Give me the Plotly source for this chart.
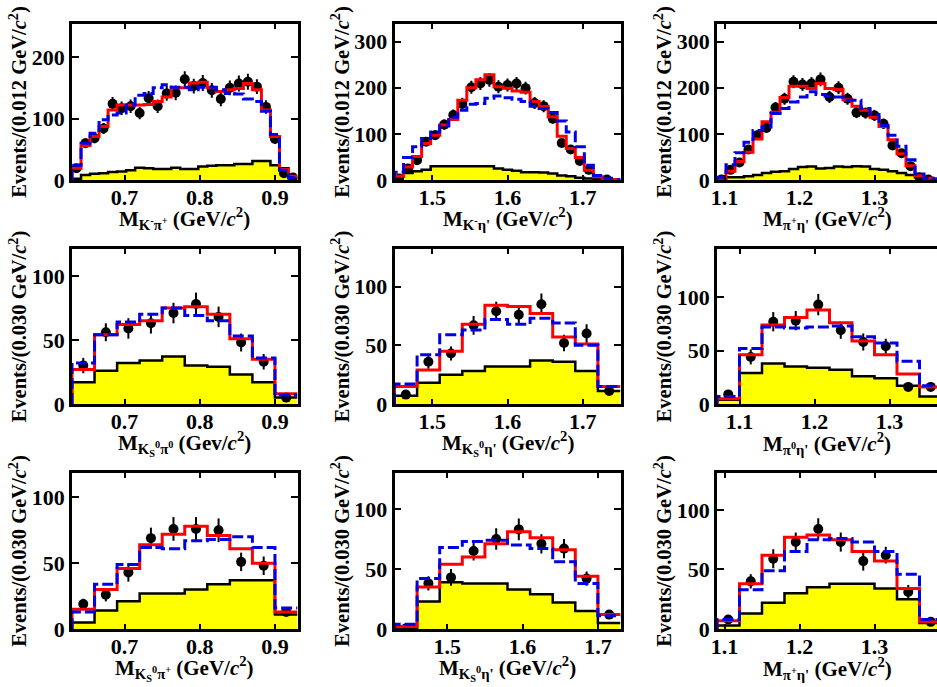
import plotly.graph_objs as go

# bin edges of each panel
edges_1 = [0.63, 0.642, 0.654, 0.666, 0.678, 0.69, 0.702, 0.714, 0.726, 0.738, 0.75, 0.762, 0.774, 0.786, 0.798, 0.81, 0.822, 0.834, 0.846, 0.858, 0.87, 0.882, 0.894, 0.906, 0.918, 0.93]
edges_2 = [1.45, 1.462, 1.474, 1.486, 1.498, 1.51, 1.522, 1.534, 1.546, 1.558, 1.57, 1.582, 1.594, 1.606, 1.618, 1.63, 1.642, 1.654, 1.666, 1.678, 1.69, 1.702, 1.714, 1.726, 1.738, 1.75]
edges_3 = [1.09, 1.102, 1.114, 1.126, 1.138, 1.15, 1.162, 1.174, 1.186, 1.198, 1.21, 1.222, 1.234, 1.246, 1.258, 1.27, 1.282, 1.294, 1.306, 1.318, 1.33, 1.342, 1.354, 1.366, 1.378, 1.39]
edges_4 = [0.63, 0.66, 0.69, 0.72, 0.75, 0.78, 0.81, 0.84, 0.87, 0.90, 0.93]
edges_5 = [1.45, 1.48, 1.51, 1.54, 1.57, 1.60, 1.63, 1.66, 1.69, 1.72, 1.75]
edges_6 = [1.07, 1.10, 1.13, 1.16, 1.19, 1.22, 1.25, 1.28, 1.31, 1.34, 1.37]
edges_7 = [0.63, 0.66, 0.69, 0.72, 0.75, 0.78, 0.81, 0.84, 0.87, 0.90, 0.93]
edges_8 = [1.43, 1.46, 1.49, 1.52, 1.55, 1.58, 1.61, 1.64, 1.67, 1.70, 1.73]
edges_9 = [1.09, 1.12, 1.15, 1.18, 1.21, 1.24, 1.27, 1.30, 1.33, 1.36, 1.39]

# panel values: data points, errors, fit (red), phase space (blue), background (black/yellow)
data_1 = [19, 60, 68, 84, 124, 117, 120, 109, 133, 120, 141, 142, 164, 153, 158, 146, 132, 150, 157, 160, 152, 119, 67, 11, 4]
err_1 = [5, 8, 8, 9, 11, 11, 11, 10, 12, 11, 12, 12, 13, 12, 13, 12, 12, 12, 13, 13, 12, 11, 8, 3, 2]
red_1 = [19, 56, 71, 87, 114, 122, 122, 122, 123, 128, 135, 150, 150, 158, 159, 150, 144, 147, 149, 157, 147, 114, 71, 17, 6]
blue_1 = [24, 60, 76, 98, 106, 109, 122, 138, 141, 150, 155, 151, 151, 147, 151, 151, 147, 141, 140, 132, 128, 112, 74, 16, 4]
bkg_1 = [2, 8, 10, 11, 13, 14, 16, 20, 19, 18, 18, 20, 18, 18, 22, 23, 24, 24, 26, 26, 31, 31, 24, 19, 3]

data_2 = [3, 25, 43, 83, 97, 120, 141, 165, 201, 209, 217, 202, 206, 209, 199, 167, 160, 133, 80, 66, 41, 22, 1, 1]
err_2 = [2, 5, 7, 9, 10, 11, 12, 13, 14, 14, 15, 14, 14, 14, 14, 13, 13, 11, 9, 8, 6, 5, 1, 1]
red_2 = [8, 28, 51, 79, 97, 119, 131, 173, 200, 217, 228, 202, 199, 193, 190, 170, 159, 137, 95, 68, 49, 21, 7, 3, 1]
blue_2 = [17, 49, 72, 90, 104, 117, 136, 151, 164, 166, 177, 182, 178, 175, 170, 160, 155, 146, 128, 104, 72, 32, 10, 4, 1]
bkg_2 = [7, 15, 19, 22, 30, 30, 30, 30, 30, 30, 30, 25, 22, 20, 17, 17, 16, 14, 10, 8, 5, 3, 1, 0, 0]

data_3 = [1, 22, 38, 66, 97, 113, 157, 176, 213, 207, 209, 218, 180, 200, 176, 146, 145, 140, 122, 75, 58, 30, 6, 1]
err_3 = [1, 5, 6, 8, 10, 11, 12, 13, 14, 14, 14, 15, 13, 14, 13, 12, 12, 12, 11, 9, 8, 5, 2, 1]
red_3 = [4, 19, 40, 60, 89, 126, 147, 179, 203, 203, 198, 209, 198, 196, 174, 160, 151, 136, 116, 87, 57, 31, 9, 4, 2]
blue_3 = [6, 33, 59, 82, 107, 115, 144, 155, 169, 180, 191, 185, 182, 180, 173, 173, 155, 142, 118, 97, 73, 44, 13, 4, 2]
bkg_3 = [2, 6, 6, 8, 11, 15, 18, 19, 24, 28, 29, 25, 26, 29, 28, 30, 29, 24, 22, 19, 15, 11, 6, 2, 1]

data_4 = [30, 56, 59, 63, 71, 78, 68, 48, 33, 5]
err_4 = [6, 7, 8, 8, 8, 9, 8, 7, 6, 2]
red_4 = [27, 54, 62, 65, 75, 76, 70, 51, 35, 8]
blue_4 = [32, 54, 64, 70, 75, 69, 65, 53, 36, 7]
bkg_4 = [17, 26, 32, 34, 37, 30, 29, 23, 17, 5]

data_5 = [8, 36, 43, 67, 79, 76, 85, 52, 60, 11]
err_5 = [3, 6, 6, 8, 8, 8, 9, 7, 8, 3]
red_5 = [15, 29, 45, 68, 84, 83, 77, 57, 51, 15]
blue_5 = [17, 42, 59, 63, 72, 68, 73, 69, 50, 15]
bkg_5 = [7, 18, 25, 28, 32, 32, 37, 36, 28, 11]

data_6 = [9, 44, 77, 78, 93, 69, 58, 54, 16, 16]
err_6 = [3, 7, 9, 9, 10, 8, 8, 7, 4, 4]
red_6 = [5, 46, 74, 81, 88, 76, 59, 46, 28, 16]
blue_6 = [7, 52, 72, 71, 72, 73, 63, 57, 40, 17]
bkg_6 = [4, 29, 38, 35, 34, 32, 26, 24, 17, 7]

data_7 = [19, 26, 43, 69, 76, 76, 75, 51, 48, 13]
err_7 = [4, 5, 7, 8, 9, 9, 9, 7, 7, 3]
red_7 = [15, 30, 46, 64, 72, 78, 71, 61, 50, 13]
blue_7 = [13, 34, 49, 62, 61, 67, 68, 70, 62, 16]
bkg_7 = [5, 14, 21, 27, 27, 30, 34, 37, 37, 11]

data_8 = [0.5, 38, 43, 65, 75, 83, 71, 67, 42, 12]
err_8 = [1, 6, 7, 8, 9, 9, 8, 8, 6, 3]
red_8 = [2, 35, 54, 60, 71, 81, 76, 66, 44, 12]
blue_8 = [4, 42, 68, 73, 74, 70, 67, 56, 38, 11]
bkg_8 = [1, 23, 39, 38, 38, 33, 29, 22, 15, 5]

data_9 = [8, 40, 59, 73, 84, 73, 57, 62, 31, 6]
err_9 = [3, 6, 8, 8, 9, 8, 8, 7, 6, 2]
red_9 = [7, 38, 62, 77, 79, 75, 65, 57, 34, 6]
blue_9 = [8, 33, 49, 65, 75, 76, 73, 65, 46, 8]
bkg_9 = [3, 13, 22, 30, 35, 38, 38, 34, 25, 5]

# axis text and ranges
x_titles = [
    "M<sub>K<sup>-</sup>π<sup>+</sup></sub> (GeV/<i>c</i><sup>2</sup>)",
    "M<sub>K<sup>-</sup>η'</sub> (GeV/<i>c</i><sup>2</sup>)",
    "M<sub>π<sup>+</sup>η'</sub> (GeV/<i>c</i><sup>2</sup>)",
    "M<sub>K<sub>S</sub><sup>0</sup>π<sup>0</sup></sub> (Gev/<i>c</i><sup>2</sup>)",
    "M<sub>K<sub>S</sub><sup>0</sup>η'</sub> (Gev/<i>c</i><sup>2</sup>)",
    "M<sub>π<sup>0</sup>η'</sub> (GeV/<i>c</i><sup>2</sup>)",
    "M<sub>K<sub>S</sub><sup>0</sup>π<sup>+</sup></sub> (GeV/<i>c</i><sup>2</sup>)",
    "M<sub>K<sub>S</sub><sup>0</sup>η'</sub> (GeV/<i>c</i><sup>2</sup>)",
    "M<sub>π<sup>+</sup>η'</sub> (GeV/<i>c</i><sup>2</sup>)",
]
y_title_012 = "Events/(0.012 GeV/<i>c</i><sup>2</sup>)"
y_title_030 = "Events/(0.030 GeV/<i>c</i><sup>2</sup>)"
x_ticks = [[0.7, 0.8, 0.9], [1.5, 1.6, 1.7], [1.1, 1.2, 1.3]]
y_tops = [254, 338, 338, 121, 132, 145, 118.5, 130, 131]
y_ticks = [[0, 100, 200], [0, 100, 200, 300], [0, 100, 200, 300],
           [0, 50, 100], [0, 50, 100], [0, 50, 100],
           [0, 50, 100], [0, 50, 100], [0, 50, 100]]

panels = [
    (edges_1, data_1, err_1, red_1, blue_1, bkg_1),
    (edges_2, data_2, err_2, red_2, blue_2, bkg_2),
    (edges_3, data_3, err_3, red_3, blue_3, bkg_3),
    (edges_4, data_4, err_4, red_4, blue_4, bkg_4),
    (edges_5, data_5, err_5, red_5, blue_5, bkg_5),
    (edges_6, data_6, err_6, red_6, blue_6, bkg_6),
    (edges_7, data_7, err_7, red_7, blue_7, bkg_7),
    (edges_8, data_8, err_8, red_8, blue_8, bkg_8),
    (edges_9, data_9, err_9, red_9, blue_9, bkg_9),
]

W, H = 937, 687
FONT = "Liberation Serif"
col_px = [(72, 297.5), (394.5, 620.5), (717, 937)]
row_px = [(24, 180), (249, 404), (473, 629)]


def step(edges, vals):
    # closed histogram outline, starting from zero at the left edge
    return [edges[0]] + edges, [0] + vals + [vals[-1]]


fig = go.Figure()
for i, (edges, data, err, red, blue, bkg) in enumerate(panels):
    row, col = i // 3, i % 3
    n = "" if i == 0 else str(i + 1)
    xa, ya = "x" + n, "y" + n
    centres = [(a + b) / 2 for a, b in zip(edges[:-1], edges[1:])]

    x, y = step(edges, bkg)
    fig.add_trace(go.Scatter(x=x, y=y, xaxis=xa, yaxis=ya, mode="lines", fill="tozeroy",
                             fillcolor="#ffff00", line=dict(color="black", width=2.5, shape="hv")))
    fig.add_trace(go.Scatter(x=centres[:len(data)], y=data, xaxis=xa, yaxis=ya, mode="markers",
                             marker=dict(color="black", size=10),
                             error_y=dict(type="data", array=err, color="black", thickness=2, width=0)))
    x, y = step(edges, red)
    fig.add_trace(go.Scatter(x=x, y=y, xaxis=xa, yaxis=ya, mode="lines",
                             line=dict(color="#ff0000", width=3, shape="hv")))
    x, y = step(edges, blue)
    fig.add_trace(go.Scatter(x=x, y=y, xaxis=xa, yaxis=ya, mode="lines",
                             line=dict(color="#0000e6", width=3, shape="hv", dash="11px,4px")))

    # the right column runs off the page, so its range stops at the page edge
    x_right = edges[-1] if col < 2 else edges[0] + 0.3 * 220 / 225
    fig.layout["xaxis" + n] = dict(
        domain=[col_px[col][0] / W, col_px[col][1] / W], anchor=ya, range=[edges[0], x_right], automargin=False,
        tickvals=x_ticks[col], ticks="inside", ticklen=5, tickwidth=2, tickcolor="black", ticklabelstandoff=-4,
        showline=True, linewidth=2.5, linecolor="black", mirror="allticks", showgrid=False, zeroline=False,
        tickformat=".1f", tickfont=dict(family=FONT, size=22, weight=700, color="black"),
    )
    fig.layout["yaxis" + n] = dict(
        domain=[1 - row_px[row][1] / H, 1 - row_px[row][0] / H], anchor=xa, range=[0, y_tops[i]], automargin=False,
        tickvals=y_ticks[i], ticks="inside", ticklen=7, tickwidth=2, tickcolor="black",
        showline=True, linewidth=2.5, linecolor="black", mirror="allticks" if col < 2 else False,
        showgrid=False, zeroline=False,
        tickfont=dict(family=FONT, size=22, weight=700, color="black"),
        title=dict(text=y_title_012 if row == 0 else y_title_030, standoff=0,
                   font=dict(family=FONT, size=20.5, weight=700, color="black")),
    )
    # x titles sit closer to the tick labels than an axis title can
    fig.add_annotation(text=x_titles[i], xref=xa + " domain", yref=ya + " domain", x=0.5, y=0,
                       yanchor="middle", yshift=-39, showarrow=False,
                       font=dict(family=FONT, size=21, weight=700, color="black"))

fig.update_layout(width=W, height=H, showlegend=False, plot_bgcolor="white", paper_bgcolor="white",
                  margin=dict(l=0, r=0, t=0, b=0))
# the browser's default body margin would push the page past the window
fig.write_html("out.html", config=dict(displayModeBar=False), post_script="document.body.style.margin = '0';")
